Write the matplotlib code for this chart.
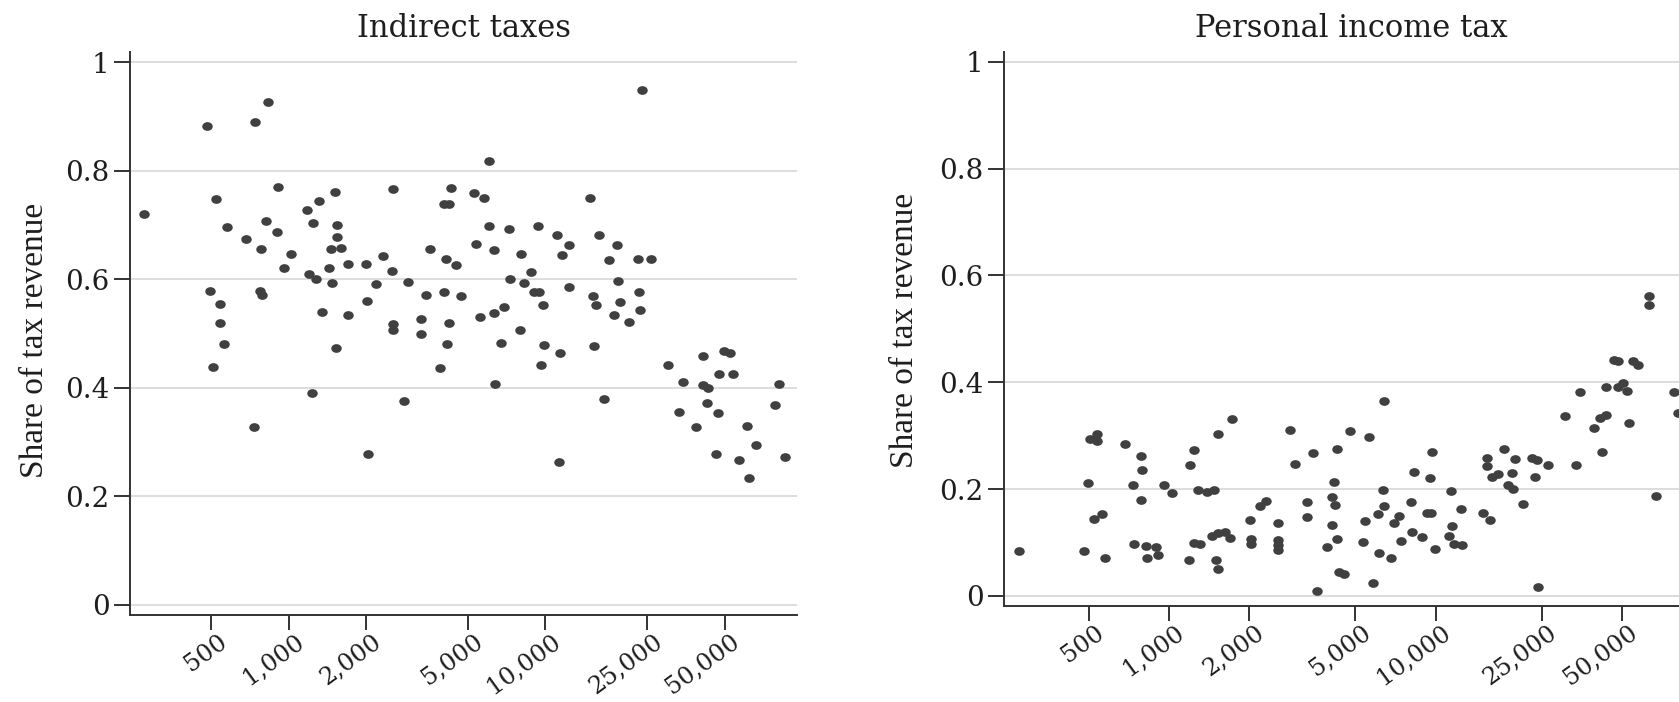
import matplotlib
matplotlib.use("Agg")
import matplotlib.pyplot as plt
from matplotlib.path import Path
from matplotlib.transforms import Affine2D, ScaledTranslation
from matplotlib.ticker import FixedLocator, NullLocator

# ---------------- data ----------------
# GDP per capita (log x axis) and share of tax revenue
indirect_gdp = [273, 480, 523, 575, 682, 738, 830, 778, 816, 898, 908, 1018, 959,
                1183, 1312, 1243, 1199, 1282, 1515, 1538, 1547, 1604, 1458, 1436,
                1480, 1708, 2008, 2330, 2518, 2548, 2195, 2013, 1708, 1352, 2924,
                2553, 2560, 1524, 495, 539, 539, 562, 775, 790, 506, 733, 1232,
                2031, 2812,
                23906, 6047, 4301, 5266, 5797, 4024, 4209, 14900, 6062, 7235, 9384,
                11156, 12346, 16255, 19100, 3549, 4099, 4482, 5362, 6324, 8054,
                11597, 17738, 23005, 25922, 7300, 8248, 8813, 19230, 3436, 4037,
                4704, 9017, 9436, 12424, 15370, 15826, 23214, 19628, 9778, 6937,
                6302, 5593, 3274, 4236, 3266, 18600, 21135, 23420, 7957,
                4150, 3882, 6708, 6397, 9929, 9665, 11460, 15450, 16960, 11360,
                29990, 41190, 49550, 52630, 47380, 53920, 34300, 41190, 42930,
                81440, 78600, 33210, 42810, 47250, 38800, 61130, 66270, 46130,
                56900, 62400, 85950]
indirect_share = [0.720, 0.882, 0.747, 0.696, 0.674, 0.890, 0.927, 0.655, 0.707,
                  0.687, 0.769, 0.646, 0.620, 0.727, 0.744, 0.704, 0.609, 0.601,
                  0.760, 0.699, 0.678, 0.658, 0.655, 0.621, 0.592, 0.628, 0.628,
                  0.642, 0.615, 0.766, 0.591, 0.560, 0.534, 0.540, 0.594, 0.517,
                  0.506, 0.473, 0.579, 0.555, 0.520, 0.481, 0.578, 0.570, 0.438,
                  0.328, 0.391, 0.278, 0.376,
                  0.949, 0.817, 0.767, 0.759, 0.749, 0.739, 0.738, 0.750, 0.698,
                  0.693, 0.697, 0.682, 0.663, 0.682, 0.663, 0.656, 0.637, 0.626,
                  0.664, 0.654, 0.646, 0.644, 0.635, 0.638, 0.638, 0.601, 0.593,
                  0.613, 0.596, 0.570, 0.576, 0.568, 0.576, 0.577, 0.585, 0.569,
                  0.552, 0.576, 0.558, 0.552, 0.549, 0.537, 0.530, 0.526, 0.520,
                  0.499, 0.534, 0.521, 0.543, 0.506,
                  0.480, 0.436, 0.483, 0.407, 0.479, 0.441, 0.464, 0.477, 0.379,
                  0.264, 0.442, 0.459, 0.468, 0.464, 0.425, 0.425, 0.410, 0.405,
                  0.399, 0.407, 0.369, 0.355, 0.372, 0.353, 0.328, 0.330, 0.294,
                  0.277, 0.267, 0.234, 0.272]

pit_gdp = [274, 479, 497, 504, 535, 537, 523, 561, 576, 681, 738, 782, 791, 733,
           784, 818, 828, 892, 910, 956, 1022, 1187, 1197, 1239, 1239, 1305, 1286,
           1383, 1477, 1495, 1521, 1444, 1529, 1620, 1692, 1529, 1726, 2012, 2028,
           2028, 2193, 2309, 2568, 2570, 2570, 2570, 2834, 2960, 3300, 3282, 3466,
           3578, 3923, 4157, 4076, 4194, 4098, 4255, 4255, 4340, 4532, 4760, 5340,
           5420, 5639, 5837, 6095, 6132, 6347, 6419, 6402, 6800, 6980, 7290, 7396,
           8085, 8134, 8320, 8915, 9309, 9585, 9505, 9721, 9950, 11460, 11500,
           11230, 11730, 12530, 12460, 15070, 16010, 15640, 15560, 16320, 17190,
           18060, 19860, 19300, 18750, 19530, 21350, 23080, 23960, 23620, 26360,
           24230, 30610, 34840, 33750, 39430, 41310, 43520, 42030, 43520, 46730,
           48510, 48230, 50350, 52300, 53210, 55230, 57670, 67010, 78510, 80770,
           63240, 63240]
pit_share = [0.084, 0.084, 0.212, 0.293, 0.303, 0.290, 0.145, 0.153, 0.072, 0.284,
             0.098, 0.262, 0.236, 0.208, 0.179, 0.093, 0.072, 0.091, 0.076, 0.208,
             0.192, 0.067, 0.245, 0.273, 0.100, 0.098, 0.198, 0.195, 0.198, 0.068,
             0.050, 0.112, 0.117, 0.119, 0.108, 0.303, 0.331, 0.143, 0.106, 0.098,
             0.168, 0.178, 0.137, 0.104, 0.095, 0.086, 0.311, 0.247, 0.176, 0.147,
             0.268, 0.009, 0.092, 0.214, 0.186, 0.170, 0.132, 0.275, 0.106, 0.044,
             0.042, 0.309, 0.101, 0.141, 0.297, 0.025, 0.153, 0.081, 0.198, 0.365,
             0.168, 0.071, 0.136, 0.149, 0.103, 0.176, 0.120, 0.233, 0.111, 0.156,
             0.155, 0.220, 0.270, 0.087, 0.197, 0.131, 0.112, 0.097, 0.095, 0.163,
             0.155, 0.143, 0.258, 0.243, 0.223, 0.228, 0.275, 0.256, 0.231, 0.208,
             0.200, 0.173, 0.258, 0.254, 0.222, 0.245, 0.017, 0.336, 0.381, 0.245,
             0.315, 0.333, 0.339, 0.269, 0.391, 0.441, 0.439, 0.392, 0.399, 0.384,
             0.324, 0.439, 0.433, 0.188, 0.382, 0.342, 0.562, 0.545]

panel_titles = ["Indirect taxes", "Personal income tax"]
y_label = "Share of tax revenue"
x_ticks = [500, 1000, 2000, 5000, 10000, 25000, 50000]
x_ticklabels = ["500", "1,000", "2,000", "5,000", "10,000", "25,000", "50,000"]
y_ticks = [0, 0.2, 0.4, 0.6, 0.8, 1]
y_ticklabels = ["0", "0.2", "0.4", "0.6", "0.8", "1"]

# ---------------- style ----------------
W, H, DPI = 1679, 702, 100
TXT = "#1e1e1e"
DOT = "#404040"
plt.rcParams["font.family"] = ["DejaVu Serif"]

fig = plt.figure(figsize=(W / DPI, H / DPI), dpi=DPI)
fig.patch.set_facecolor("white")


def px_axes(x0, x1, ytop, ybot):
    return fig.add_axes([x0 / W, 1 - ybot / H, (x1 - x0) / W, (ybot - ytop) / H])


ax1 = px_axes(130, 797.3, 51.7, 615)
ax2 = px_axes(1004.3, 1697.5, 51.7, 606)

ellipse = Path.unit_circle().transformed(Affine2D().scale(1.2, 1.0))

for ax, gx, gy, title in [(ax1, indirect_gdp, indirect_share, panel_titles[0]),
                          (ax2, pit_gdp, pit_share, panel_titles[1])]:
    ax.scatter(gx, gy, s=57, marker=ellipse, color=DOT, linewidths=0, zorder=3)
    ax.set_xscale("log")
    ax.set_xlim(241, 96000)
    ax.set_ylim(-0.0188, 1.019)
    ax.xaxis.set_major_locator(FixedLocator(x_ticks))
    ax.xaxis.set_minor_locator(NullLocator())
    ax.set_xticklabels(x_ticklabels, rotation=36, ha="right", va="center",
                       rotation_mode="anchor")
    ax.set_yticks(y_ticks)
    ax.set_yticklabels(y_ticklabels)
    ax.tick_params(axis="x", length=10.8, width=1.4, pad=6.5, labelsize=17.5,
                   colors="#333333", labelcolor=TXT)
    ax.tick_params(axis="y", length=11.3, width=1.4, pad=3.5, labelsize=20,
                   colors="#333333", labelcolor=TXT)
    for lab in ax.get_xticklabels():
        lab.set_transform(lab.get_transform() +
                          ScaledTranslation(0.13, 0, fig.dpi_scale_trans))
    ax.yaxis.grid(True, color="#d3d3d3", linewidth=1.1)
    ax.set_axisbelow(True)
    for side in ["top", "right"]:
        ax.spines[side].set_visible(False)
    for side in ["left", "bottom"]:
        ax.spines[side].set_color("#333333")
        ax.spines[side].set_linewidth(1.4)
    ax.set_title(title, fontsize=22, pad=10.8, color=TXT)

fig.text(35 / W, 1 - 340 / H, y_label, rotation=90, ha="center", va="center",
         family=["Liberation Serif", "DejaVu Serif"], fontsize=24, color=TXT)
fig.text(905 / W, 1 - 330 / H, y_label, rotation=90, ha="center", va="center",
         family=["Liberation Serif", "DejaVu Serif"], fontsize=24, color=TXT)

fig.savefig("out.png", dpi=DPI, facecolor="white")
